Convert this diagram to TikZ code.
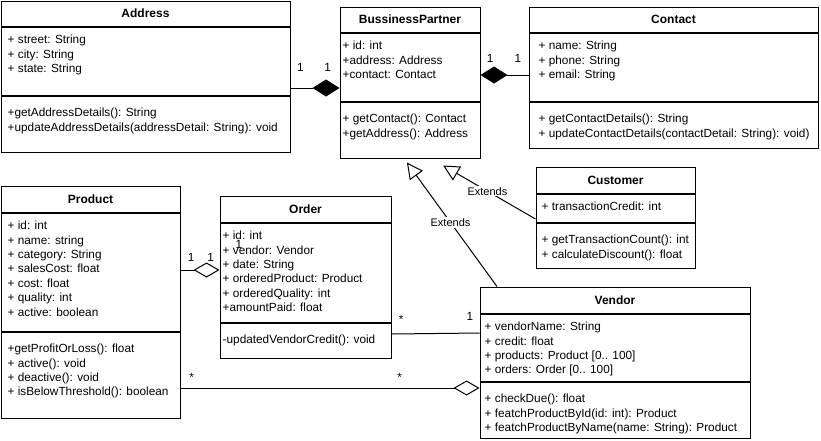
\documentclass[tikz,border=0pt]{standalone}
\usepackage{fontspec}
\setmainfont{Liberation Sans}
\usetikzlibrary{arrows.meta, positioning}
\tikzset{head/.style={rectangle,draw,line width=1pt,inner sep=0pt,font=\fontsize{12}{14.4}\selectfont\bfseries},
         comp/.style={rectangle,draw,line width=1pt,inner sep=0pt},
         attrtext/.style={anchor=north west,align=left,inner xsep=4pt,inner ysep=8.5pt},
         optext/.style={anchor=north west,align=left,inner xsep=4pt,inner ysep=12.5pt},
         mult/.style={inner sep=0pt},
         assoc/.style={line width=1pt},
         compose/.style={line width=1pt,-{Diamond[length=27pt,width=17pt]}},
         aggr/.style={line width=1pt,-{Diamond[open,length=26pt,width=15pt]}},
         extends/.style={line width=1pt,-{Triangle[open,length=16pt,width=16pt]}},
         extlabel/.style={fill=white,inner sep=1pt,font=\fontsize{11}{13}\selectfont}}

\begin{document}
\begin{tikzpicture}[x=1pt,y=-1pt,font=\fontsize{11.8}{14.4}\selectfont]
    \useasboundingbox (0,0) rectangle (821,440);
    % Classes
    \node (addr) at (145.5,13.5) [head,minimum width=289pt,minimum height=25pt]{Address};
    \node (addr-attr) [comp,below=0pt of addr,minimum width=289pt,minimum height=68pt]{};
    \node (addr-ops) [comp,below=0pt of addr-attr,minimum width=289pt,minimum height=56pt]{};
    \node (addr-attr-txt) at (addr-attr.north west) [attrtext,xshift=3pt]{+ street: String\\+ city: String\\+ state: String};
    \node (addr-ops-txt) at (addr-ops.north west) [optext,xshift=3pt]{+getAddressDetails(): String\\+updateAddressDetails(addressDetail: String): void};

    \node (bp) at (410,19.5) [head,minimum width=140pt,minimum height=25pt]{BussinessPartner};
    \node (bp-attr) [comp,below=0pt of bp,minimum width=140pt,minimum height=68pt]{};
    \node (bp-ops) [comp,below=0pt of bp-attr,minimum width=140pt,minimum height=56pt]{};
    \node (bp-attr-txt) at (bp-attr.north west) [attrtext,xshift=-1pt]{+ id: int\\+address: Address\\+contact: Contact};
    \node (bp-ops-txt) at (bp-ops.north west) [optext,xshift=-1pt]{+ getContact(): Contact\\+getAddress(): Address};

    \node (contact) at (673.5,19.5) [head,minimum width=289pt,minimum height=25pt]{Contact};
    \node (contact-attr) [comp,below=0pt of contact,minimum width=289pt,minimum height=68pt]{};
    \node (contact-ops) [comp,below=0pt of contact-attr,minimum width=289pt,minimum height=46pt]{};
    \node (contact-attr-txt) at (contact-attr.north west) [attrtext,xshift=6pt]{+ name: String\\+ phone: String\\+ email: String};
    \node (contact-ops-txt) at (contact-ops.north west) [optext,xshift=6pt]{+ getContactDetails(): String\\+ updateContactDetails(contactDetail: String): void)};

    \node (product) at (90.5,199) [head,minimum width=179pt,minimum height=26pt]{Product};
    \node (product-attr) [comp,below=0pt of product,minimum width=179pt,minimum height=118pt]{};
    \node (product-ops) [comp,below=0pt of product-attr,minimum width=179pt,minimum height=86pt]{};
    \node (product-attr-txt) at (product-attr.north west) [attrtext,xshift=3pt]{+ id: int\\+ name: string\\+ category: String\\+ salesCost: float\\+ cost: float\\+ quality: int\\+ active: boolean};
    \node (product-ops-txt) at (product-ops.north west) [optext,xshift=3pt]{+getProfitOrLoss(): float\\+ active(): void\\+ deactive(): void\\+ isBelowThreshold(): boolean};

    \node (order) at (305.5,209) [head,minimum width=171pt,minimum height=26pt]{Order};
    \node (order-attr) [comp,below=0pt of order,minimum width=171pt,minimum height=99pt]{};
    \node (order-ops) [comp,below=0pt of order-attr,minimum width=171pt,minimum height=35pt]{};
    \node (order-attr-txt) at (order-attr.north west) [attrtext,xshift=-1pt]{+ id: int\\+ vendor: Vendor\\+ date: String\\+ orderedProduct: Product\\+ orderedQuality: int\\+amountPaid: float};
    \node (order-ops-txt) at (order-ops.north west) [optext,xshift=-1pt]{-updatedVendorCredit(): void};
    \node (stray-one) at (239,244) [mult]{1};

    \node (cust) at (615.5,180) [head,minimum width=159pt,minimum height=26pt]{Customer};
    \node (cust-attr) [comp,below=0pt of cust,minimum width=159pt,minimum height=28pt]{};
    \node (cust-ops) [comp,below=0pt of cust-attr,minimum width=159pt,minimum height=45pt]{};
    \node (cust-attr-txt) at (cust-attr.north west) [attrtext,xshift=2pt]{+ transactionCredit: int};
    \node (cust-ops-txt) at (cust-ops.north west) [optext,xshift=2pt]{+ getTransactionCount(): int\\+ calculateDiscount(): float};

    \node (vendor) at (615,300) [head,minimum width=270pt,minimum height=26pt]{Vendor};
    \node (vendor-attr) [comp,below=0pt of vendor,minimum width=270pt,minimum height=67pt]{};
    \node (vendor-ops) [comp,below=0pt of vendor-attr,minimum width=270pt,minimum height=56pt]{};
    \node (vendor-attr-txt) at (vendor-attr.north west) [attrtext,xshift=1pt]{+ vendorName: String\\+ credit: float\\+ products: Product [0.. 100]\\+ orders: Order [0.. 100]};
    \node (vendor-ops-txt) at (vendor-ops.north west) [optext,xshift=1pt]{+ checkDue(): float\\+ featchProductById(id: int): Product\\+ featchProductByName(name: String): Product};

    % Relations
    \draw[compose] ([yshift=-27pt]addr-attr.east) -- node[mult,pos=0.2,above=15.7pt]{1} node[mult,pos=0.76,above=15.7pt]{1} ([yshift=-21pt]bp-attr.west);
    \draw[compose] ([yshift=-8pt]contact-attr.west) -- node[mult,pos=0.22,above=11.7pt]{1} node[mult,pos=0.8,above=11.7pt]{1} ([yshift=-8pt]bp-attr.east);
    \draw[aggr] ([yshift=2pt]product-attr.east) -- node[mult,pos=0.275,above=7.7pt]{1} node[mult,pos=0.775,above=7.7pt]{1} ([yshift=2.5pt]order-attr.west);
    \draw[assoc] ([yshift=6.5pt]order-ops.east) -- node[mult,pos=0.11,above=10pt]{*} node[mult,pos=0.89,above=11.7pt]{1} ([yshift=14.5pt]vendor-attr.west);
    \draw[aggr] ([yshift=-13pt]product-ops.east) -- node[mult,pos=0.037,above=6.5pt]{*} node[mult,pos=0.733,above=6.5pt]{*} ([yshift=22pt]vendor-ops.west);
    \draw[extends,shorten >=14pt] ([yshift=-11pt]cust-attr.west) -- node[extlabel,pos=0.46]{Extends} ([xshift=21pt]bp-ops.south);
    \draw[extends,shorten >=5pt] ([xshift=-118pt]vendor.north) -- node[extlabel,pos=0.5]{Extends} ([xshift=-6pt]bp-ops.south);
\end{tikzpicture}
\end{document}
